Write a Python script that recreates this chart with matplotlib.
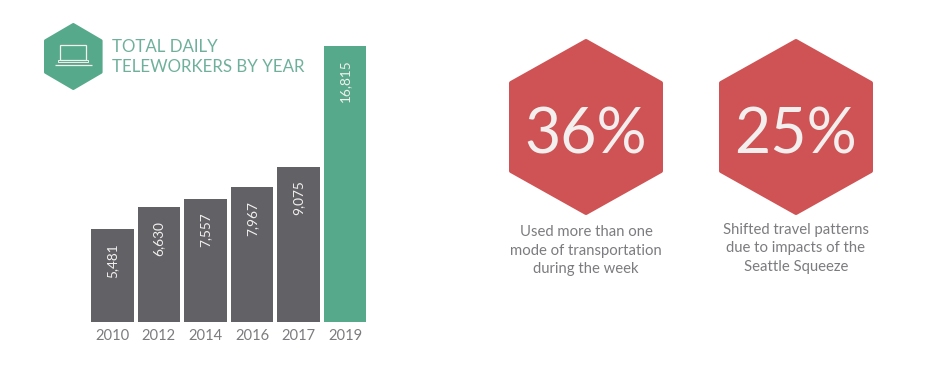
import matplotlib
matplotlib.use("Agg")
import matplotlib.pyplot as plt
from matplotlib.patches import Polygon, Rectangle

years = ["2010", "2012", "2014", "2016", "2017", "2019"]
value_labels = ["5,481", "6,630", "7,557", "7,967", "9,075", "16,815"]
# Bar heights as drawn in the picture (the original is not strictly to scale)
drawn_heights = [5620, 7000, 7490, 8220, 9440, 16815]
title_lines = ["TOTAL DAILY", "TELEWORKERS BY YEAR"]
stats = ["36%", "25%"]
captions = [
    ["Used more than one", "mode of transportation", "during the week"],
    ["Shifted travel patterns", "due to impacts of the", "Seattle Squeeze"],
]

GREY = "#626266"
GREEN = "#57a98b"
RED = "#cf5254"
TITLE = "#6fb09c"
TEXT = "#7c7c80"
LIGHT = "#f3efee"
FONT = "Lato"
W, H = 928, 366

fig = plt.figure(figsize=(W / 100, H / 100), dpi=100, facecolor="white")

# full-figure overlay in pixel coordinates for the decorations
bg = fig.add_axes([0, 0, 1, 1])
bg.set_xlim(0, W)
bg.set_ylim(H, 0)
bg.axis("off")


def hexagon(cx, top, bottom, half_w, upper, lower, color, r=2.0):
    bg.add_patch(Polygon(
        [(cx, top + r), (cx + half_w - r, upper + r / 2), (cx + half_w - r, lower - r / 2),
         (cx, bottom - r), (cx - half_w + r, lower - r / 2), (cx - half_w + r, upper + r / 2)],
        closed=True, facecolor=color, edgecolor=color, linewidth=r * 1.44, joinstyle="round"))


# laptop badge
hexagon(73.3, 23, 90, 29.3, 40, 73, GREEN, r=1.5)
bg.add_patch(Rectangle((60.5, 45), 26, 15, fill=False, edgecolor=LIGHT, linewidth=0.9))
bg.add_patch(Rectangle((58.5, 60), 30, 2.2, fill=False, edgecolor=LIGHT, linewidth=0.7))
bg.plot([55, 92], [65, 65], color=LIGHT, linewidth=0.9, solid_capstyle="butt")

for text, y in zip(title_lines, [46.5, 67]):
    bg.text(112, y, text, color=TITLE, fontsize=12.15, family=FONT, va="center", ha="left")

# stat hexagons
for cx, stat, lines, ys in zip([586, 796], stats, captions,
                               [[232, 250.5, 269], [230, 248, 267]]):
    hexagon(cx, 39, 215, 77, 82, 172, RED)
    bg.text(cx, 129.5, stat, color=LIGHT, fontsize=45, family=FONT,
            ha="center", va="center_baseline")
    for line, y in zip(lines, ys):
        bg.text(cx, y, line, color=TEXT, fontsize=10.7, family=FONT, ha="center", va="center")

# bar chart
step = 46.5
bar_w = 42.5 / step
left_px, right_px = 91, 366.5
bottom_px, top_px = 321.7, 45.7
ax = fig.add_axes([left_px / W, 1 - bottom_px / H, (right_px - left_px) / W, (bottom_px - top_px) / H])
ax.patch.set_alpha(0)
x = list(range(len(years)))
colors = [GREY] * (len(years) - 1) + [GREEN]
ax.bar(x, drawn_heights, width=bar_w, color=colors)
ax.set_xlim(-bar_w / 2, len(years) - 1 + bar_w / 2)
ax.set_ylim(0, max(drawn_heights))
ax.set_yticks([])
ax.set_xticks(x, years)
ax.tick_params(axis="x", length=0, pad=5.5, labelsize=10.6, labelcolor=TEXT)
for lab in ax.get_xticklabels():
    lab.set_fontfamily(FONT)
for s in ax.spines.values():
    s.set_visible(False)
for xi, h, lab in zip(x, drawn_heights, value_labels):
    ax.annotate(lab, (xi, h), xytext=(0, -10), textcoords="offset points", rotation=90,
                ha="center", va="top", color=LIGHT, fontsize=9.8, family=FONT)

fig.savefig("out.png", dpi=100, facecolor="white")
